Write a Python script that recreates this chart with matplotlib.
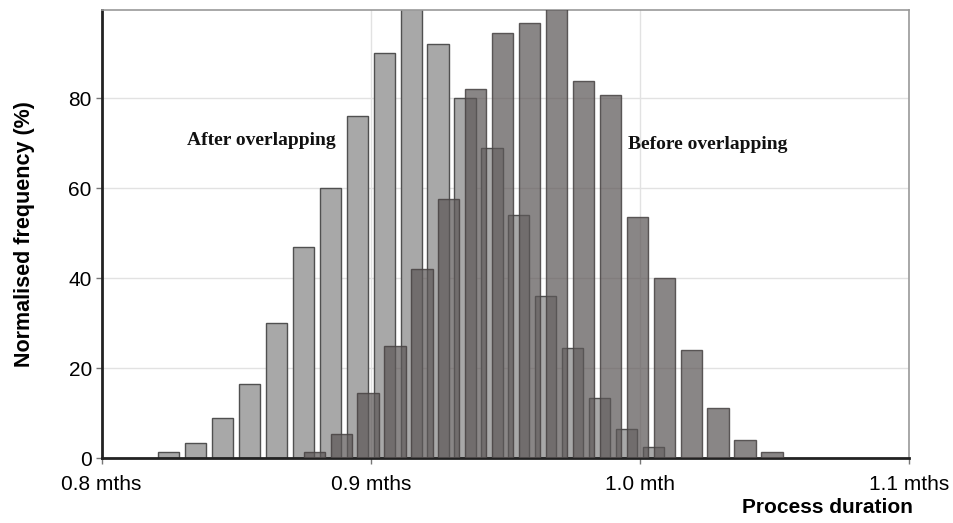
import matplotlib
matplotlib.use("Agg")
import matplotlib.pyplot as plt
import numpy as np

# bin centres (months) and normalised frequencies
after_x = [0.825, 0.835, 0.845, 0.855, 0.865, 0.875, 0.885, 0.895, 0.905, 0.915,
           0.925, 0.935, 0.945, 0.955, 0.965, 0.975, 0.985, 0.995, 1.005]
after_y = [1.3, 3.3, 9, 16.4, 30, 47, 60, 76, 90, 100,
           92, 80, 69, 54, 36, 24.4, 13.3, 6.5, 2.5]

before_x = [0.879, 0.889, 0.899, 0.909, 0.919, 0.929, 0.939, 0.949, 0.959,
            0.969, 0.979, 0.989, 0.999, 1.009, 1.019, 1.029, 1.039, 1.049]
before_y = [1.4, 5.5, 14.4, 25, 42, 57.6, 82, 94.4, 96.6,
            100, 83.8, 80.6, 53.5, 40, 24, 11.2, 4, 1.3]

xticks = [0.8, 0.9, 1.0, 1.1]
xtick_labels = ["0.8 mths", "0.9 mths", "1.0 mth", "1.1 mths"]
yticks = [0, 20, 40, 60, 80]

plt.rcParams['font.family'] = ['Liberation Sans', 'DejaVu Sans']

fig = plt.figure(figsize=(9.54, 5.23), dpi=100)
ax = fig.add_axes([0.1064, 0.1237, 0.8467, 0.8573])

width = 0.0079
ax.bar(after_x, after_y, width=width, color='#a8a8a8', edgecolor='#505050',
       linewidth=1.0, zorder=2)
ax.bar(before_x, before_y, width=width, facecolor=(0.36, 0.34, 0.34, 0.72),
       edgecolor=(0.28, 0.26, 0.26, 0.85), linewidth=1.0, zorder=3)

ax.set_xlim(0.8, 1.1)
ax.set_ylim(0, 99.6)
ax.set_xticks(xticks)
ax.set_xticklabels(xtick_labels)
ax.set_yticks(yticks)
ax.tick_params(axis='both', labelsize=15, direction='out', length=4,
               color='#777777', width=1)
ax.tick_params(axis='x', pad=8)
ax.tick_params(axis='y', pad=3)

ax.grid(True, color='#e2e2e2', linewidth=1.0, zorder=0)
ax.set_axisbelow(True)

for s in ['left', 'bottom']:
    ax.spines[s].set_color('#222222')
    ax.spines[s].set_linewidth(2)
for s in ['top', 'right']:
    ax.spines[s].set_color('#999999')
    ax.spines[s].set_linewidth(1.2)

ax.set_ylabel('Normalised frequency (%)', fontsize=15.5, fontweight='bold', labelpad=24)
fig.text(0.957, 0.012, 'Process duration', fontsize=15, fontweight='bold',
         ha='right', va='bottom')

ax.text(0.8317, 70.5, 'After overlapping', family='Liberation Serif',
        fontsize=14, fontweight='bold', va='center', ha='left', color='#111111')
ax.text(0.9955, 69.6, 'Before overlapping', family='Liberation Serif',
        fontsize=14, fontweight='bold', va='center', ha='left', color='#111111')

fig.savefig('out.png', dpi=100)
